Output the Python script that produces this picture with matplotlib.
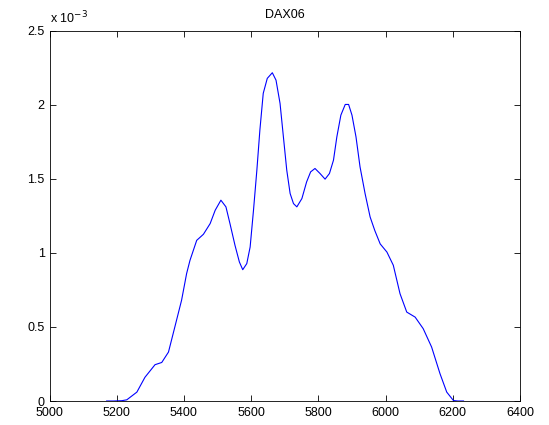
import matplotlib
matplotlib.use("Agg")
import matplotlib.pyplot as plt
import numpy as np
from matplotlib.ticker import FuncFormatter

# Data (x values, density in units of 1e-3)
x_vals = [5170, 5190, 5215, 5230, 5260, 5284, 5314, 5334, 5354, 5373, 5393, 5408,
          5418, 5438, 5458, 5478, 5493, 5510, 5525, 5537, 5552, 5565, 5575, 5587,
          5597, 5607, 5617, 5626, 5636, 5648, 5663, 5674, 5686, 5696, 5706, 5716,
          5726, 5736, 5751, 5765, 5777, 5790, 5805, 5820, 5833, 5845, 5855, 5867,
          5880, 5890, 5900, 5912, 5924, 5939, 5954, 5968, 5984, 6004, 6023, 6043,
          6063, 6088, 6112, 6137, 6162, 6182, 6202, 6215, 6232]
y_e3 = [0.0, 0.0, 0.002, 0.008, 0.06, 0.16, 0.245, 0.26, 0.33, 0.50, 0.68, 0.86,
        0.949, 1.084, 1.125, 1.197, 1.287, 1.355, 1.31, 1.197, 1.05, 0.938, 0.886, 0.927,
        1.039, 1.287, 1.557, 1.828, 2.076, 2.177, 2.215, 2.165, 2.008, 1.782, 1.557, 1.40,
        1.332, 1.31, 1.366, 1.478, 1.546, 1.569, 1.535, 1.497, 1.535, 1.625, 1.782, 1.929,
        2.001, 2.001, 1.929, 1.782, 1.58, 1.40, 1.242, 1.15, 1.06, 1.005, 0.916, 0.724,
        0.60, 0.566, 0.488, 0.364, 0.184, 0.06, 0.003, 0.0, 0.0]
x_ticks = [5000, 5200, 5400, 5600, 5800, 6000, 6200, 6400]
y_ticks_e3 = [0, 0.5, 1, 1.5, 2, 2.5]
title = "DAX06"

plt.rcParams['font.family'] = ['Liberation Sans', 'DejaVu Sans']

fig = plt.figure(figsize=(5.49, 4.25), dpi=100)
ax = fig.add_axes([49.5/549, 1 - 401/425, (520 - 49.5)/549, (401 - 30.5)/425])

y = np.array(y_e3) * 1e-3
ax.plot(x_vals, y, color='#0000ff', linewidth=0.8)

ax.set_xlim(5000, 6400)
ax.set_ylim(0, 2.5e-3)
ax.set_xticks(x_ticks)
ax.set_yticks(np.array(y_ticks_e3) * 1e-3)
ax.yaxis.set_major_formatter(FuncFormatter(lambda v, p: ('%g' % round(v * 1e3, 6))))
ax.tick_params(direction='in', length=4.3, width=0.6, top=True, right=True,
               labelsize=9, colors='black')
ax.tick_params(axis='x', pad=4.5)
ax.tick_params(axis='y', pad=3.5)
for s in ax.spines.values():
    s.set_linewidth(0.6)

ax.set_title(title, fontsize=9, pad=9)
ax.text(0.0, 1.012, r'x 10$^{-3}$', transform=ax.transAxes, fontsize=9,
        ha='left', va='bottom')

fig.savefig('out.png', dpi=100)
